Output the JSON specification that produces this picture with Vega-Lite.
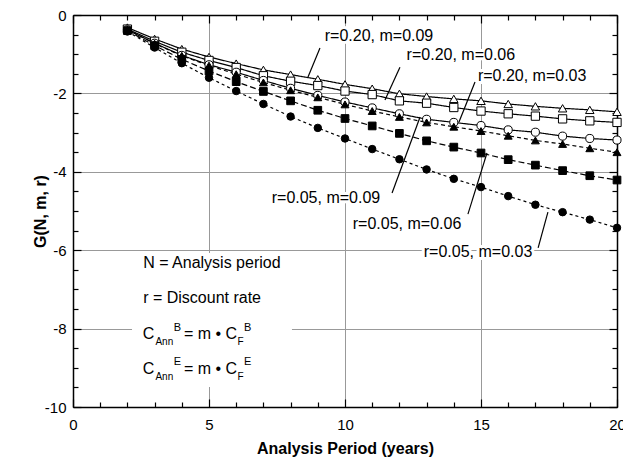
{
  "$schema": "https://vega.github.io/schema/vega-lite/v6.json",
  "width": 544,
  "height": 392,
  "autosize": {"type": "none"},
  "padding": {"left": 73, "top": 15, "right": 6, "bottom": 50},
  "background": "white",
  "config": {
    "view": {"stroke": null},
    "font": "Liberation Sans",
    "axis": {
      "domainColor": "black", "domainWidth": 1.5,
      "tickColor": "black", "tickWidth": 1.2,
      "labelColor": "black", "titleColor": "black",
      "labelFont": "Liberation Sans", "labelFontSize": 15,
      "titleFont": "Liberation Sans", "titleFontSize": 16, "titleFontWeight": "bold",
      "gridColor": "#999999", "gridWidth": 1
    }
  },
  "datasets": {
    "series": [
      {"series":"r=0.20, m=0.09","N":2,"G":-0.32},{"series":"r=0.20, m=0.09","N":3,"G":-0.61},{"series":"r=0.20, m=0.09","N":4,"G":-0.87},{"series":"r=0.20, m=0.09","N":5,"G":-1.07},{"series":"r=0.20, m=0.09","N":6,"G":-1.24},{"series":"r=0.20, m=0.09","N":7,"G":-1.40},{"series":"r=0.20, m=0.09","N":8,"G":-1.52},{"series":"r=0.20, m=0.09","N":9,"G":-1.64},{"series":"r=0.20, m=0.09","N":10,"G":-1.77},{"series":"r=0.20, m=0.09","N":11,"G":-1.88},{"series":"r=0.20, m=0.09","N":12,"G":-2.01},{"series":"r=0.20, m=0.09","N":13,"G":-2.08},{"series":"r=0.20, m=0.09","N":14,"G":-2.14},{"series":"r=0.20, m=0.09","N":15,"G":-2.19},{"series":"r=0.20, m=0.09","N":16,"G":-2.27},{"series":"r=0.20, m=0.09","N":17,"G":-2.33},{"series":"r=0.20, m=0.09","N":18,"G":-2.38},{"series":"r=0.20, m=0.09","N":19,"G":-2.42},{"series":"r=0.20, m=0.09","N":20,"G":-2.47},
      {"series":"r=0.20, m=0.06","N":2,"G":-0.36},{"series":"r=0.20, m=0.06","N":3,"G":-0.67},{"series":"r=0.20, m=0.06","N":4,"G":-0.95},{"series":"r=0.20, m=0.06","N":5,"G":-1.16},{"series":"r=0.20, m=0.06","N":6,"G":-1.34},{"series":"r=0.20, m=0.06","N":7,"G":-1.55},{"series":"r=0.20, m=0.06","N":8,"G":-1.69},{"series":"r=0.20, m=0.06","N":9,"G":-1.80},{"series":"r=0.20, m=0.06","N":10,"G":-1.94},{"series":"r=0.20, m=0.06","N":11,"G":-2.03},{"series":"r=0.20, m=0.06","N":12,"G":-2.19},{"series":"r=0.20, m=0.06","N":13,"G":-2.25},{"series":"r=0.20, m=0.06","N":14,"G":-2.36},{"series":"r=0.20, m=0.06","N":15,"G":-2.45},{"series":"r=0.20, m=0.06","N":16,"G":-2.52},{"series":"r=0.20, m=0.06","N":17,"G":-2.58},{"series":"r=0.20, m=0.06","N":18,"G":-2.65},{"series":"r=0.20, m=0.06","N":19,"G":-2.70},{"series":"r=0.20, m=0.06","N":20,"G":-2.74},
      {"series":"r=0.20, m=0.03","N":2,"G":-0.38},{"series":"r=0.20, m=0.03","N":3,"G":-0.72},{"series":"r=0.20, m=0.03","N":4,"G":-1.03},{"series":"r=0.20, m=0.03","N":5,"G":-1.27},{"series":"r=0.20, m=0.03","N":6,"G":-1.46},{"series":"r=0.20, m=0.03","N":7,"G":-1.67},{"series":"r=0.20, m=0.03","N":8,"G":-1.87},{"series":"r=0.20, m=0.03","N":9,"G":-2.05},{"series":"r=0.20, m=0.03","N":10,"G":-2.22},{"series":"r=0.20, m=0.03","N":11,"G":-2.37},{"series":"r=0.20, m=0.03","N":12,"G":-2.52},{"series":"r=0.20, m=0.03","N":13,"G":-2.66},{"series":"r=0.20, m=0.03","N":14,"G":-2.74},{"series":"r=0.20, m=0.03","N":15,"G":-2.82},{"series":"r=0.20, m=0.03","N":16,"G":-2.93},{"series":"r=0.20, m=0.03","N":17,"G":-2.99},{"series":"r=0.20, m=0.03","N":18,"G":-3.09},{"series":"r=0.20, m=0.03","N":19,"G":-3.15},{"series":"r=0.20, m=0.03","N":20,"G":-3.19},
      {"series":"r=0.05, m=0.09","N":2,"G":-0.37},{"series":"r=0.05, m=0.09","N":3,"G":-0.73},{"series":"r=0.05, m=0.09","N":4,"G":-1.04},{"series":"r=0.05, m=0.09","N":5,"G":-1.29},{"series":"r=0.05, m=0.09","N":6,"G":-1.51},{"series":"r=0.05, m=0.09","N":7,"G":-1.72},{"series":"r=0.05, m=0.09","N":8,"G":-1.92},{"series":"r=0.05, m=0.09","N":9,"G":-2.10},{"series":"r=0.05, m=0.09","N":10,"G":-2.28},{"series":"r=0.05, m=0.09","N":11,"G":-2.45},{"series":"r=0.05, m=0.09","N":12,"G":-2.60},{"series":"r=0.05, m=0.09","N":13,"G":-2.74},{"series":"r=0.05, m=0.09","N":14,"G":-2.85},{"series":"r=0.05, m=0.09","N":15,"G":-2.96},{"series":"r=0.05, m=0.09","N":16,"G":-3.08},{"series":"r=0.05, m=0.09","N":17,"G":-3.20},{"series":"r=0.05, m=0.09","N":18,"G":-3.29},{"series":"r=0.05, m=0.09","N":19,"G":-3.40},{"series":"r=0.05, m=0.09","N":20,"G":-3.50},
      {"series":"r=0.05, m=0.06","N":2,"G":-0.40},{"series":"r=0.05, m=0.06","N":3,"G":-0.78},{"series":"r=0.05, m=0.06","N":4,"G":-1.13},{"series":"r=0.05, m=0.06","N":5,"G":-1.43},{"series":"r=0.05, m=0.06","N":6,"G":-1.70},{"series":"r=0.05, m=0.06","N":7,"G":-1.95},{"series":"r=0.05, m=0.06","N":8,"G":-2.19},{"series":"r=0.05, m=0.06","N":9,"G":-2.43},{"series":"r=0.05, m=0.06","N":10,"G":-2.64},{"series":"r=0.05, m=0.06","N":11,"G":-2.83},{"series":"r=0.05, m=0.06","N":12,"G":-3.02},{"series":"r=0.05, m=0.06","N":13,"G":-3.21},{"series":"r=0.05, m=0.06","N":14,"G":-3.37},{"series":"r=0.05, m=0.06","N":15,"G":-3.52},{"series":"r=0.05, m=0.06","N":16,"G":-3.69},{"series":"r=0.05, m=0.06","N":17,"G":-3.83},{"series":"r=0.05, m=0.06","N":18,"G":-3.97},{"series":"r=0.05, m=0.06","N":19,"G":-4.10},{"series":"r=0.05, m=0.06","N":20,"G":-4.21},
      {"series":"r=0.05, m=0.03","N":2,"G":-0.42},{"series":"r=0.05, m=0.03","N":3,"G":-0.83},{"series":"r=0.05, m=0.03","N":4,"G":-1.23},{"series":"r=0.05, m=0.03","N":5,"G":-1.60},{"series":"r=0.05, m=0.03","N":6,"G":-1.94},{"series":"r=0.05, m=0.03","N":7,"G":-2.27},{"series":"r=0.05, m=0.03","N":8,"G":-2.59},{"series":"r=0.05, m=0.03","N":9,"G":-2.88},{"series":"r=0.05, m=0.03","N":10,"G":-3.15},{"series":"r=0.05, m=0.03","N":11,"G":-3.42},{"series":"r=0.05, m=0.03","N":12,"G":-3.68},{"series":"r=0.05, m=0.03","N":13,"G":-3.94},{"series":"r=0.05, m=0.03","N":14,"G":-4.18},{"series":"r=0.05, m=0.03","N":15,"G":-4.39},{"series":"r=0.05, m=0.03","N":16,"G":-4.62},{"series":"r=0.05, m=0.03","N":17,"G":-4.84},{"series":"r=0.05, m=0.03","N":18,"G":-5.03},{"series":"r=0.05, m=0.03","N":19,"G":-5.22},{"series":"r=0.05, m=0.03","N":20,"G":-5.43}
    ],
    "labels": [
      {"label":"r=0.20, m=0.09","x":11.25,"y":-0.54},
      {"label":"r=0.20, m=0.06","x":14.26,"y":-1.02},
      {"label":"r=0.20, m=0.03","x":16.88,"y":-1.56},
      {"label":"r=0.05, m=0.09","x":9.30,"y":-4.67},
      {"label":"r=0.05, m=0.06","x":12.28,"y":-5.33},
      {"label":"r=0.05, m=0.03","x":14.89,"y":-6.05}
    ],
    "leaders": [
      {"x":9.08,"y":-0.84,"x2":8.64,"y2":-1.58},
      {"x":12.02,"y":-1.33,"x2":11.47,"y2":-2.17},
      {"x":14.78,"y":-1.71,"x2":14.19,"y2":-2.73},
      {"x":11.73,"y":-4.54,"x2":12.76,"y2":-2.60},
      {"x":14.52,"y":-5.08,"x2":15.22,"y2":-3.52},
      {"x":17.10,"y":-5.94,"x2":17.46,"y2":-5.03}
    ],
    "box": [{"x":2.17,"x2":8.05,"y":-6.07,"y2":-9.49}],
    "notes": [
      {"t":"N = Analysis period","x":2.58,"y":-6.32},
      {"t":"r = Discount rate","x":2.58,"y":-7.23},
      {"t":"C","x":2.56,"y":-8.14},
      {"t":"= m • C","x":4.08,"y":-8.14},
      {"t":"C","x":2.56,"y":-9.02},
      {"t":"= m • C","x":4.08,"y":-9.02}
    ],
    "subs": [
      {"t":"Ann","x":3.03,"y":-8.35},
      {"t":"F","x":6.05,"y":-8.35},
      {"t":"Ann","x":3.03,"y":-9.24},
      {"t":"F","x":6.05,"y":-9.24}
    ],
    "sups": [
      {"t":"B","x":3.70,"y":-7.98},
      {"t":"B","x":6.29,"y":-7.98},
      {"t":"E","x":3.70,"y":-8.86},
      {"t":"E","x":6.29,"y":-8.86}
    ]
  },
  "resolve": {"axis": {"x": "independent", "y": "independent"}},
  "layer": [
    {
      "data": {"name": "series"},
      "mark": {"type": "line", "color": "black", "strokeWidth": 1.2},
      "encoding": {
        "x": {"field": "N", "type": "quantitative", "scale": {"domain": [0, 20], "nice": false, "zero": false},
          "axis": {"orient": "bottom", "values": [0, 5, 10, 15, 20], "tickSize": -8, "labelPadding": 18, "labelFlush": false, "grid": true, "title": "Analysis Period (years)", "titlePadding": 8}},
        "y": {"field": "G", "type": "quantitative", "scale": {"domain": [-10, 0], "nice": false},
          "axis": {"orient": "left", "values": [-10, -8, -6, -4, -2, 0], "tickSize": -8, "labelPadding": 15, "grid": true, "title": "G(N, m, r)", "titlePadding": -4, "labelExpr": "replace(datum.label, '\u2212', '-')"}},
        "detail": {"field": "series", "type": "nominal"},
        "strokeDash": {"field": "series", "type": "nominal", "legend": null,
          "scale": {"domain": ["r=0.20, m=0.09","r=0.20, m=0.06","r=0.20, m=0.03","r=0.05, m=0.09","r=0.05, m=0.06","r=0.05, m=0.03"],
                    "range": [[1, 0], [1, 0], [1, 0], [4, 3], [6, 3], [3, 3]]}}
      }
    },
    {
      "data": {"name": "series"},
      "mark": {"type": "point", "filled": true, "stroke": "black", "strokeWidth": 1, "opacity": 1},
      "encoding": {
        "x": {"field": "N", "type": "quantitative", "scale": {"domain": [0, 20], "nice": false, "zero": false},
          "axis": {"orient": "bottom", "values": [1,2,3,4,6,7,8,9,11,12,13,14,16,17,18,19], "tickSize": -5, "labels": false, "domain": false, "grid": false, "title": null}},
        "y": {"field": "G", "type": "quantitative", "scale": {"domain": [-10, 0], "nice": false},
          "axis": {"orient": "left", "values": [-9.5,-9,-8.5,-7.5,-7,-6.5,-5.5,-5,-4.5,-3.5,-3,-2.5,-1.5,-1,-0.5], "tickSize": -5, "labels": false, "domain": false, "grid": false, "title": null}},
        "shape": {"field": "series", "type": "nominal", "legend": null,
          "scale": {"domain": ["r=0.20, m=0.09","r=0.20, m=0.06","r=0.20, m=0.03","r=0.05, m=0.09","r=0.05, m=0.06","r=0.05, m=0.03"],
                    "range": ["triangle-up", "square", "circle", "triangle-up", "square", "circle"]}},
        "fill": {"field": "series", "type": "nominal", "legend": null,
          "scale": {"domain": ["r=0.20, m=0.09","r=0.20, m=0.06","r=0.20, m=0.03","r=0.05, m=0.09","r=0.05, m=0.06","r=0.05, m=0.03"],
                    "range": ["white", "white", "white", "black", "black", "black"]}},
        "size": {"field": "series", "type": "nominal", "legend": null,
          "scale": {"domain": ["r=0.20, m=0.09","r=0.20, m=0.06","r=0.20, m=0.03","r=0.05, m=0.09","r=0.05, m=0.06","r=0.05, m=0.03"],
                    "range": [72, 56, 64, 45, 90, 64]}}
      }
    },
    {
      "data": {"name": "box"},
      "mark": {"type": "rect", "fill": "white"},
      "encoding": {
        "x": {"field": "x", "type": "quantitative", "scale": {"domain": [0, 20], "nice": false, "zero": false},
          "axis": {"orient": "top", "values": [0, 5, 10, 15, 20], "tickSize": -8, "labels": false, "grid": false, "title": null}},
        "x2": {"field": "x2"},
        "y": {"field": "y", "type": "quantitative", "scale": {"domain": [-10, 0], "nice": false},
          "axis": {"orient": "right", "values": [-10, -8, -6, -4, -2, 0], "tickSize": -8, "labels": false, "grid": false, "title": null}},
        "y2": {"field": "y2"}
      }
    },
    {
      "data": {"name": "labels"},
      "mark": {"type": "text", "fontSize": 16, "font": "Liberation Sans", "align": "center", "baseline": "middle", "fill": "white", "stroke": "white", "strokeWidth": 6},
      "encoding": {
        "x": {"field": "x", "type": "quantitative", "scale": {"domain": [0, 20], "nice": false, "zero": false},
          "axis": {"orient": "top", "values": [1,2,3,4,6,7,8,9,11,12,13,14,16,17,18,19], "tickSize": -5, "labels": false, "domain": false, "grid": false, "title": null}},
        "y": {"field": "y", "type": "quantitative", "scale": {"domain": [-10, 0], "nice": false},
          "axis": {"orient": "right", "values": [-9.5,-9,-8.5,-7.5,-7,-6.5,-5.5,-5,-4.5,-3.5,-3,-2.5,-1.5,-1,-0.5], "tickSize": -5, "labels": false, "domain": false, "grid": false, "title": null}},
        "text": {"field": "label"}
      }
    },
    {
      "data": {"name": "labels"},
      "mark": {"type": "text", "fontSize": 16, "font": "Liberation Sans", "align": "center", "baseline": "middle", "fill": "black"},
      "encoding": {
        "x": {"field": "x", "type": "quantitative", "scale": {"domain": [0, 20], "nice": false, "zero": false}, "axis": null},
        "y": {"field": "y", "type": "quantitative", "scale": {"domain": [-10, 0], "nice": false}, "axis": null},
        "text": {"field": "label"}
      }
    },
    {
      "data": {"name": "leaders"},
      "mark": {"type": "rule", "color": "black", "strokeWidth": 1.2},
      "encoding": {
        "x": {"field": "x", "type": "quantitative", "scale": {"domain": [0, 20], "nice": false, "zero": false}, "axis": null},
        "y": {"field": "y", "type": "quantitative", "scale": {"domain": [-10, 0], "nice": false}, "axis": null},
        "x2": {"field": "x2"},
        "y2": {"field": "y2"}
      }
    },
    {
      "data": {"name": "notes"},
      "mark": {"type": "text", "fontSize": 16, "font": "Liberation Sans", "align": "left", "baseline": "middle", "fill": "black"},
      "encoding": {
        "x": {"field": "x", "type": "quantitative", "scale": {"domain": [0, 20], "nice": false, "zero": false}, "axis": null},
        "y": {"field": "y", "type": "quantitative", "scale": {"domain": [-10, 0], "nice": false}, "axis": null},
        "text": {"field": "t"}
      }
    },
    {
      "data": {"name": "subs"},
      "mark": {"type": "text", "fontSize": 10, "font": "Liberation Sans", "align": "left", "baseline": "middle", "fill": "black"},
      "encoding": {
        "x": {"field": "x", "type": "quantitative", "scale": {"domain": [0, 20], "nice": false, "zero": false}, "axis": null},
        "y": {"field": "y", "type": "quantitative", "scale": {"domain": [-10, 0], "nice": false}, "axis": null},
        "text": {"field": "t"}
      }
    },
    {
      "data": {"name": "sups"},
      "mark": {"type": "text", "fontSize": 11, "font": "Liberation Sans", "align": "left", "baseline": "middle", "fill": "black"},
      "encoding": {
        "x": {"field": "x", "type": "quantitative", "scale": {"domain": [0, 20], "nice": false, "zero": false}, "axis": null},
        "y": {"field": "y", "type": "quantitative", "scale": {"domain": [-10, 0], "nice": false}, "axis": null},
        "text": {"field": "t"}
      }
    }
  ]
}
